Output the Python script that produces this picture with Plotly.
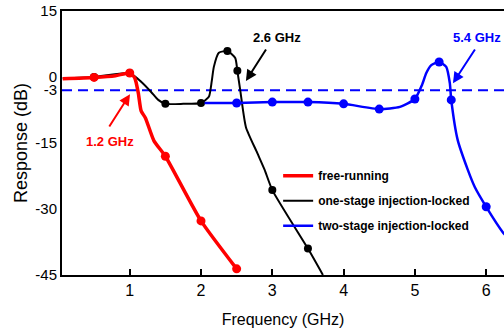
import plotly.graph_objects as go

# ---------------- data ----------------
FREE_CURVE_X = [0.06, 0.5, 0.8, 1.0, 1.07, 1.12, 1.16, 1.22, 1.34, 1.5, 2.0, 2.5]
FREE_CURVE_Y = [-0.4, -0.1, 0.3, 0.9, -0.2, -3.6, -7.7, -9.3, -14.5, -18.0, -32.7, -43.6]
FREE_MARK_X = [0.5, 1.0, 1.5, 2.0, 2.5]
FREE_MARK_Y = [-0.1, 0.9, -18.0, -32.7, -43.6]

ONE_CURVE_X = [0.06, 0.5, 1.0, 1.16, 1.3, 1.4, 1.5, 1.75, 2.0, 2.11, 2.15, 2.18, 2.25,
               2.37, 2.48, 2.51, 2.55, 2.63, 2.79, 2.89, 3.0, 3.5, 3.71]
ONE_CURVE_Y = [-0.3, 0.0, 0.9, -1.1, -3.4, -5.2, -6.1, -6.1, -5.9, -4.5, -1.0, 2.3, 5.5,
               5.9, 4.3, 1.4, -3.0, -11.4, -17.3, -21.0, -25.7, -39.0, -45.0]
ONE_MARK_X = [0.5, 1.0, 1.5, 2.0, 2.37, 2.51, 3.0, 3.5]
ONE_MARK_Y = [0.0, 0.9, -6.1, -5.9, 5.9, 1.4, -25.7, -39.0]

TWO_CURVE_X = [2.05, 2.5, 3.0, 3.5, 4.0, 4.5, 4.79, 5.0, 5.1, 5.16, 5.23, 5.34, 5.44,
               5.49, 5.51, 5.6, 5.74, 5.84, 6.0, 6.23, 6.3]
TWO_CURVE_Y = [-5.9, -5.9, -5.7, -5.7, -6.1, -7.3, -6.8, -5.0, -1.8, 0.9, 2.7, 3.4, 2.3,
               -1.4, -5.2, -14.3, -21.0, -25.0, -29.5, -35.2, -36.5]
TWO_MARK_X = [2.5, 3.0, 3.5, 4.0, 4.5, 5.0, 5.34, 5.51, 6.0]
TWO_MARK_Y = [-5.9, -5.7, -5.7, -6.1, -7.3, -5.0, 3.4, -5.2, -29.5]

SERIES_NAMES = ["free-running", "one-stage injection-locked", "two-stage injection-locked"]
THRESHOLD_DB = -3

X_TICKS = [1, 2, 3, 4, 5, 6]
Y_TICKS = [15, 0, -3, -15, -30, -45]
Y_TICK_TEXT = ["15", "0", "-3", "-15", "-30", "-45"]

# annotation labels (text, head x/y, tail x/y, text x/y) in data units
LABELS = [
    ("1.2 GHz", "red", 1.004, -3.9, 0.70, -11.6, 0.72, -14.6),
    ("2.6 GHz", "black", 2.63, -0.9, 2.925, 6.6, 3.065, 8.9),
    ("5.4 GHz", "blue", 5.534, -1.4, 5.856, 6.6, 5.87, 8.9),
]

RED = "#ff0000"
BLACK = "#000000"
BLUE = "#0000ff"
FONT = "Liberation Sans, Arial, sans-serif"

fig = go.Figure()

def add_series(cx, cy, mx, my, name, color, width, msize, rank):
    fig.add_trace(go.Scatter(
        x=cx, y=cy, mode="lines", name=name, line=dict(color=color, width=width,
        shape="spline", smoothing=0.55), legendgroup=name, legendrank=rank,
        showlegend=True))
    fig.add_trace(go.Scatter(
        x=mx, y=my, mode="markers", marker=dict(color=color, size=msize),
        legendgroup=name, showlegend=False))

add_series(ONE_CURVE_X, ONE_CURVE_Y, ONE_MARK_X, ONE_MARK_Y, SERIES_NAMES[1], BLACK, 2, 8, 2)
add_series(TWO_CURVE_X, TWO_CURVE_Y, TWO_MARK_X, TWO_MARK_Y, SERIES_NAMES[2], BLUE, 2.5, 9, 3)
add_series(FREE_CURVE_X, FREE_CURVE_Y, FREE_MARK_X, FREE_MARK_Y, SERIES_NAMES[0], RED, 3.5, 9, 1)

fig.add_shape(type="line", xref="paper", x0=0, x1=1, yref="y", y0=THRESHOLD_DB, y1=THRESHOLD_DB,
              line=dict(color=BLUE, width=2, dash="10px,6px"), layer="below")

for text, color, hx, hy, tx, ty, lx, ly in LABELS:
    fig.add_annotation(x=hx, y=hy, ax=tx, ay=ty, xref="x", yref="y", axref="x", ayref="y",
                       text="", showarrow=True, arrowhead=2, arrowsize=1.1, arrowwidth=2,
                       arrowcolor=color)
    fig.add_annotation(x=lx, y=ly, xref="x", yref="y", text="<b>" + text + "</b>",
                       showarrow=False, font=dict(family=FONT, size=13, color=color))

fig.update_layout(
    width=504, height=330,
    margin=dict(l=62, r=0, t=11, b=55, autoexpand=False),
    paper_bgcolor="white", plot_bgcolor="white",
    font=dict(family=FONT, color="black"),
    legend=dict(x=0.489, y=0.431, xanchor="left", yanchor="top", bgcolor="rgba(0,0,0,0)",
                font=dict(family=FONT, size=12, color="black", weight="bold"),
                tracegroupgap=6, itemwidth=30),
    xaxis=dict(range=[0.05, 6.25], tickvals=X_TICKS, ticks="inside", ticklen=6, tickwidth=2,
               tickcolor="black", showline=True, linecolor="black", linewidth=2, mirror=True,
               showgrid=False, zeroline=False, tickfont=dict(size=16), automargin=False,
               title=dict(text="Frequency (GHz)", font=dict(size=16), standoff=16)),
    yaxis=dict(range=[-45, 15], tickvals=Y_TICKS, ticktext=Y_TICK_TEXT, ticks="",
               showline=True, linecolor="black", linewidth=2, showgrid=False, zeroline=False,
               tickfont=dict(size=15), automargin=False, ticklabeloverflow="allow",
               title=dict(text="Response (dB)", font=dict(size=18), standoff=3)),
)

# remove the page's default 8px body margin so the figure fills the window exactly
fig.write_html("out.html", config={"displayModeBar": False},
               post_script="document.body.style.margin='0';document.body.style.overflow='hidden';")
